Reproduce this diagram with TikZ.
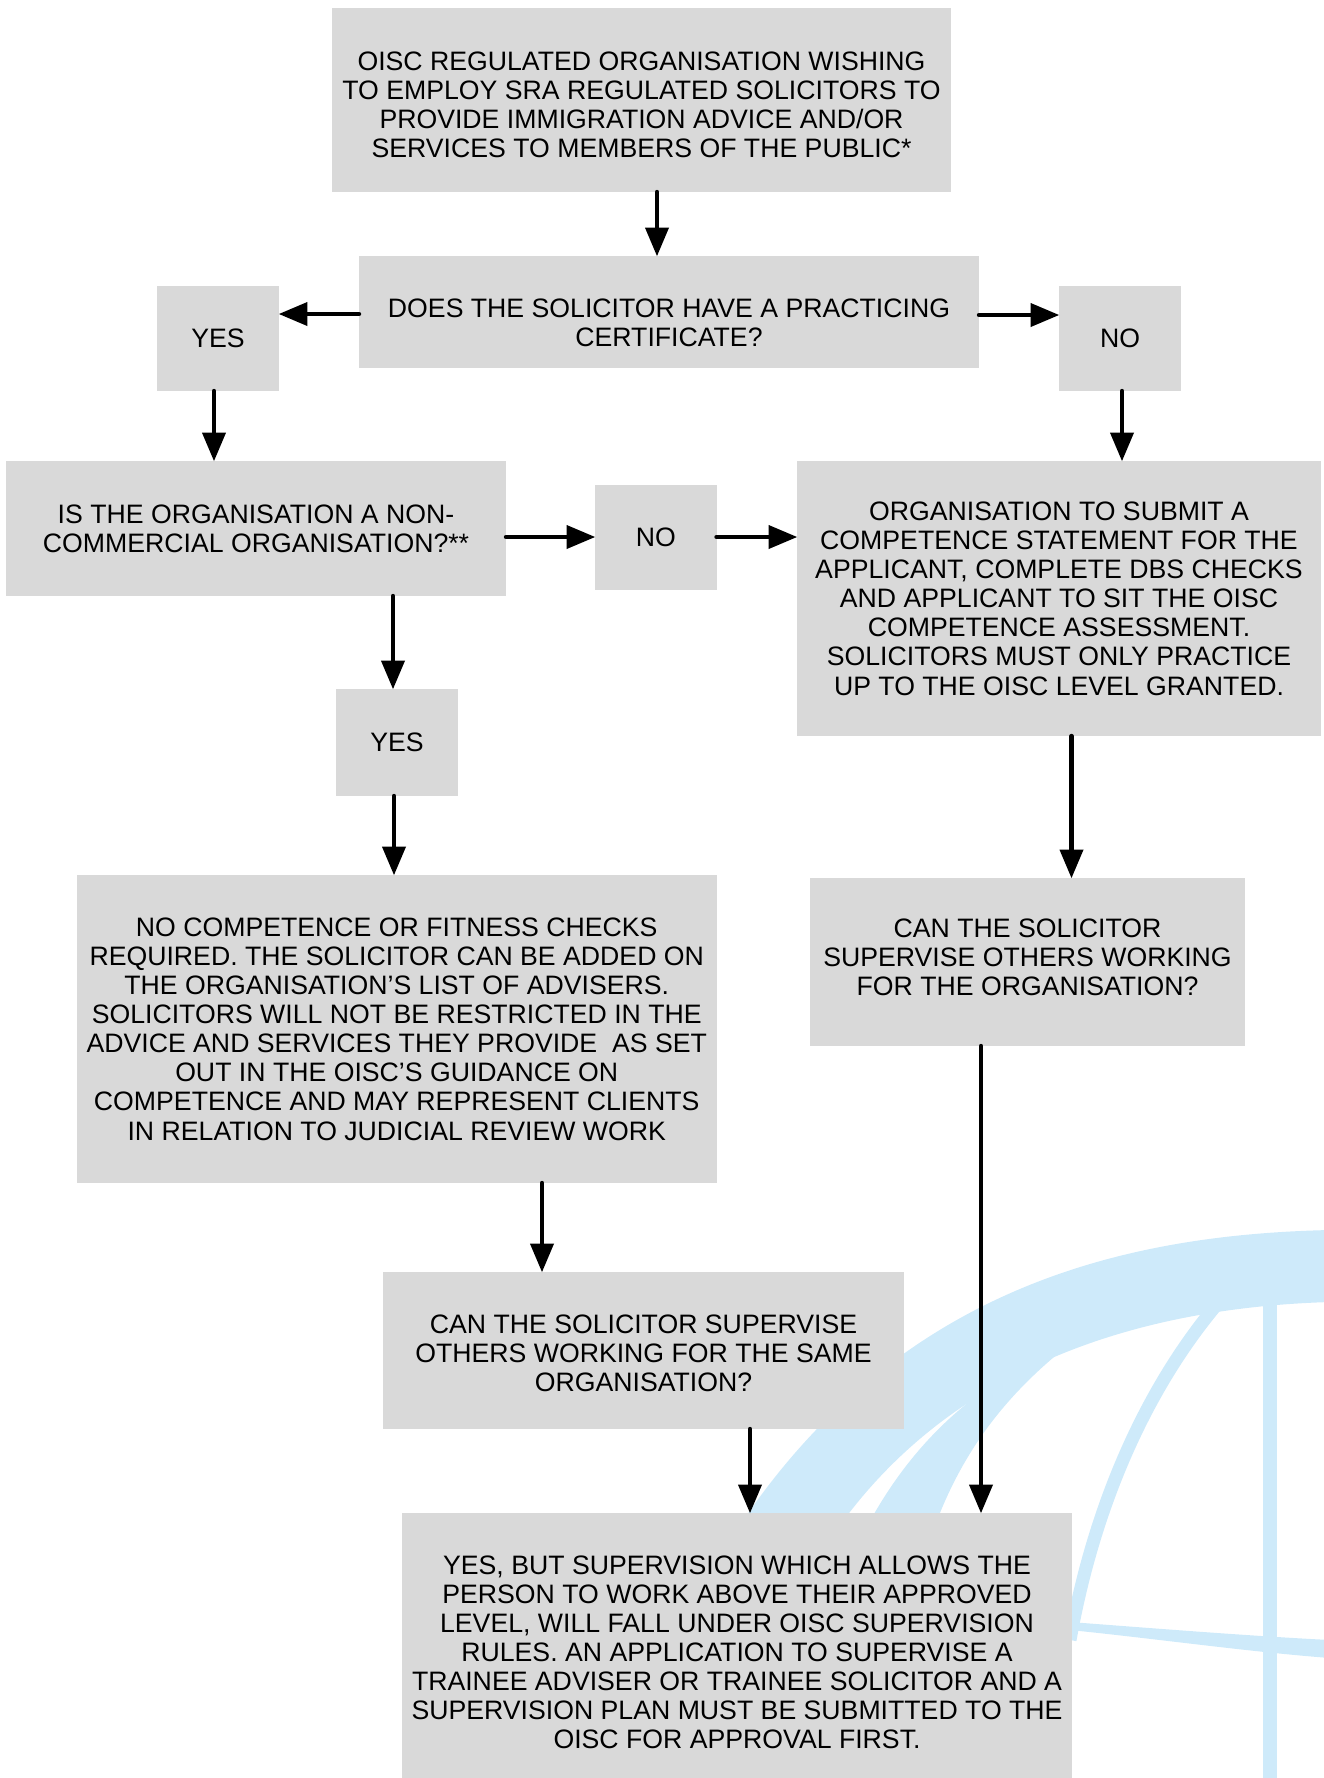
\documentclass[tikz,border=0pt]{standalone}
\usepackage{fontspec}
\setmainfont{Liberation Sans}
\usetikzlibrary{arrows}
\definecolor{boxgrey}{RGB}{217,217,217}
\definecolor{globeblue}{RGB}{206,234,250}

\begin{document}
\begin{tikzpicture}[line cap=round,line join=round,>=triangle 45,x=0.45pt,y=-0.45pt,
  greybox/.style={fill=boxgrey,inner sep=0pt,outer sep=0pt,align=center,font=\fontsize{12}{13.1}\selectfont},
  wh/.style 2 args={minimum width=#1*0.45pt,minimum height=#2*0.45pt},
  arr/.style={->,line width=2pt}]
\useasboundingbox (0,0) rectangle (1324,1778);
\clip (0,0) rectangle (1324,1778);

\fill[globeblue] (1330,1230) .. controls (1100,1235) and (850,1300) .. (690,1610) -- (790,1610) .. controls (880,1420) and (1060,1310) .. (1330,1302) -- cycle;
\fill[globeblue] (1075,1340) .. controls (980,1380) and (910,1440) .. (860,1540) -- (930,1540) .. controls (960,1450) and (1010,1390) .. (1075,1340) -- cycle;
\draw[globeblue,line width=5.85pt,line cap=butt] (1225,1295) .. controls (1150,1380) and (1095,1500) .. (1070,1640);
\fill[globeblue] (1263,1295) rectangle (1277,1778);
\fill[globeblue] (1070,1622) .. controls (1150,1628) and (1250,1636) .. (1330,1640) -- (1330,1658) .. controls (1250,1652) and (1150,1638) .. (1070,1630) -- cycle;

\node[greybox,wh={619}{184}] (start) at (641.5,100) {\rule{0pt}{12.8pt}OISC REGULATED ORGANISATION WISHING\\TO EMPLOY SRA REGULATED SOLICITORS TO\\PROVIDE IMMIGRATION ADVICE AND/OR\\SERVICES TO MEMBERS OF THE PUBLIC*};
\node[greybox,wh={620}{112}] (practise) at (669,312) {\rule{0pt}{18pt}DOES THE SOLICITOR HAVE A PRACTICING\\CERTIFICATE?};
\node[greybox,wh={122}{105}] (yesA) at (218,338.5) {YES};
\node[greybox,wh={122}{105}] (noA) at (1120,338.5) {NO};
\node[greybox,wh={500}{135}] (noncom) at (256,528.5) {IS THE ORGANISATION A NON-\\COMMERCIAL ORGANISATION?**};
\node[greybox,wh={121.5}{105}] (noB) at (655.75,537.5) {NO};
\node[greybox,wh={524}{275}] (submit) at (1059,598.5) {ORGANISATION TO SUBMIT A\\COMPETENCE STATEMENT FOR THE\\APPLICANT, COMPLETE DBS CHECKS\\AND APPLICANT TO SIT THE OISC\\COMPETENCE ASSESSMENT.\\SOLICITORS MUST ONLY PRACTICE\\UP TO THE OISC LEVEL GRANTED.};
\node[greybox,wh={122}{107}] (yesB) at (397,742.5) {YES};
\node[greybox,wh={640.5}{308}] (nochecks) at (396.75,1029) {NO COMPETENCE OR FITNESS CHECKS\\REQUIRED. THE SOLICITOR CAN BE ADDED ON\\THE ORGANISATION’S LIST OF ADVISERS.\\SOLICITORS WILL NOT BE RESTRICTED IN THE\\ADVICE AND SERVICES THEY PROVIDE\ \ AS SET\\OUT IN THE OISC’S GUIDANCE ON\\COMPETENCE AND MAY REPRESENT CLIENTS\\IN RELATION TO JUDICIAL REVIEW WORK};
\node[greybox,wh={435}{168},text depth=4pt] (superA) at (1027.5,962) {CAN THE SOLICITOR\\SUPERVISE OTHERS WORKING\\FOR THE ORGANISATION?};
\node[greybox,wh={521}{157}] (superB) at (643.5,1350.5) {\rule{0pt}{10.8pt}CAN THE SOLICITOR SUPERVISE\\OTHERS WORKING FOR THE SAME\\ORGANISATION?};
\node[greybox,wh={670.5}{272}] (rules) at (737,1649) {\rule{0pt}{11.4pt}YES, BUT SUPERVISION WHICH ALLOWS THE\\PERSON TO WORK ABOVE THEIR APPROVED\\LEVEL, WILL FALL UNDER OISC SUPERVISION\\RULES. AN APPLICATION TO SUPERVISE A\\TRAINEE ADVISER OR TRAINEE SOLICITOR AND A\\SUPERVISION PLAN MUST BE SUBMITTED TO THE\\OISC FOR APPROVAL FIRST.};

\draw[arr] (start.south -| 657,0) -- (practise.north -| 657,0);
\draw[arr] (practise.west |- 0,314) -- (yesA.east |- 0,314);
\draw[arr] (practise.east |- 0,315) -- (noA.west |- 0,315);
\draw[arr] (yesA.south -| 214,0) -- (noncom.north -| 214,0);
\draw[arr] (noA.south -| 1122,0) -- (submit.north -| 1122,0);
\draw[arr] (noncom.east |- 0,537) -- (noB.west |- 0,537);
\draw[arr] (noB.east |- 0,537) -- (submit.west |- 0,537);
\draw[arr] (noncom.south -| 393,0) -- (yesB.north -| 393,0);
\draw[arr] (yesB.south -| 394,0) -- (nochecks.north -| 394,0);
\draw[arr] (submit.south -| 1071.5,0) -- (superA.north -| 1071.5,0);
\draw[arr] (nochecks.south -| 542,0) -- (superB.north -| 542,0);
\draw[arr] (superB.south -| 750,0) -- (rules.north -| 750,0);
\draw[arr] (superA.south -| 981,0) -- (rules.north -| 981,0);
\end{tikzpicture}
\end{document}
